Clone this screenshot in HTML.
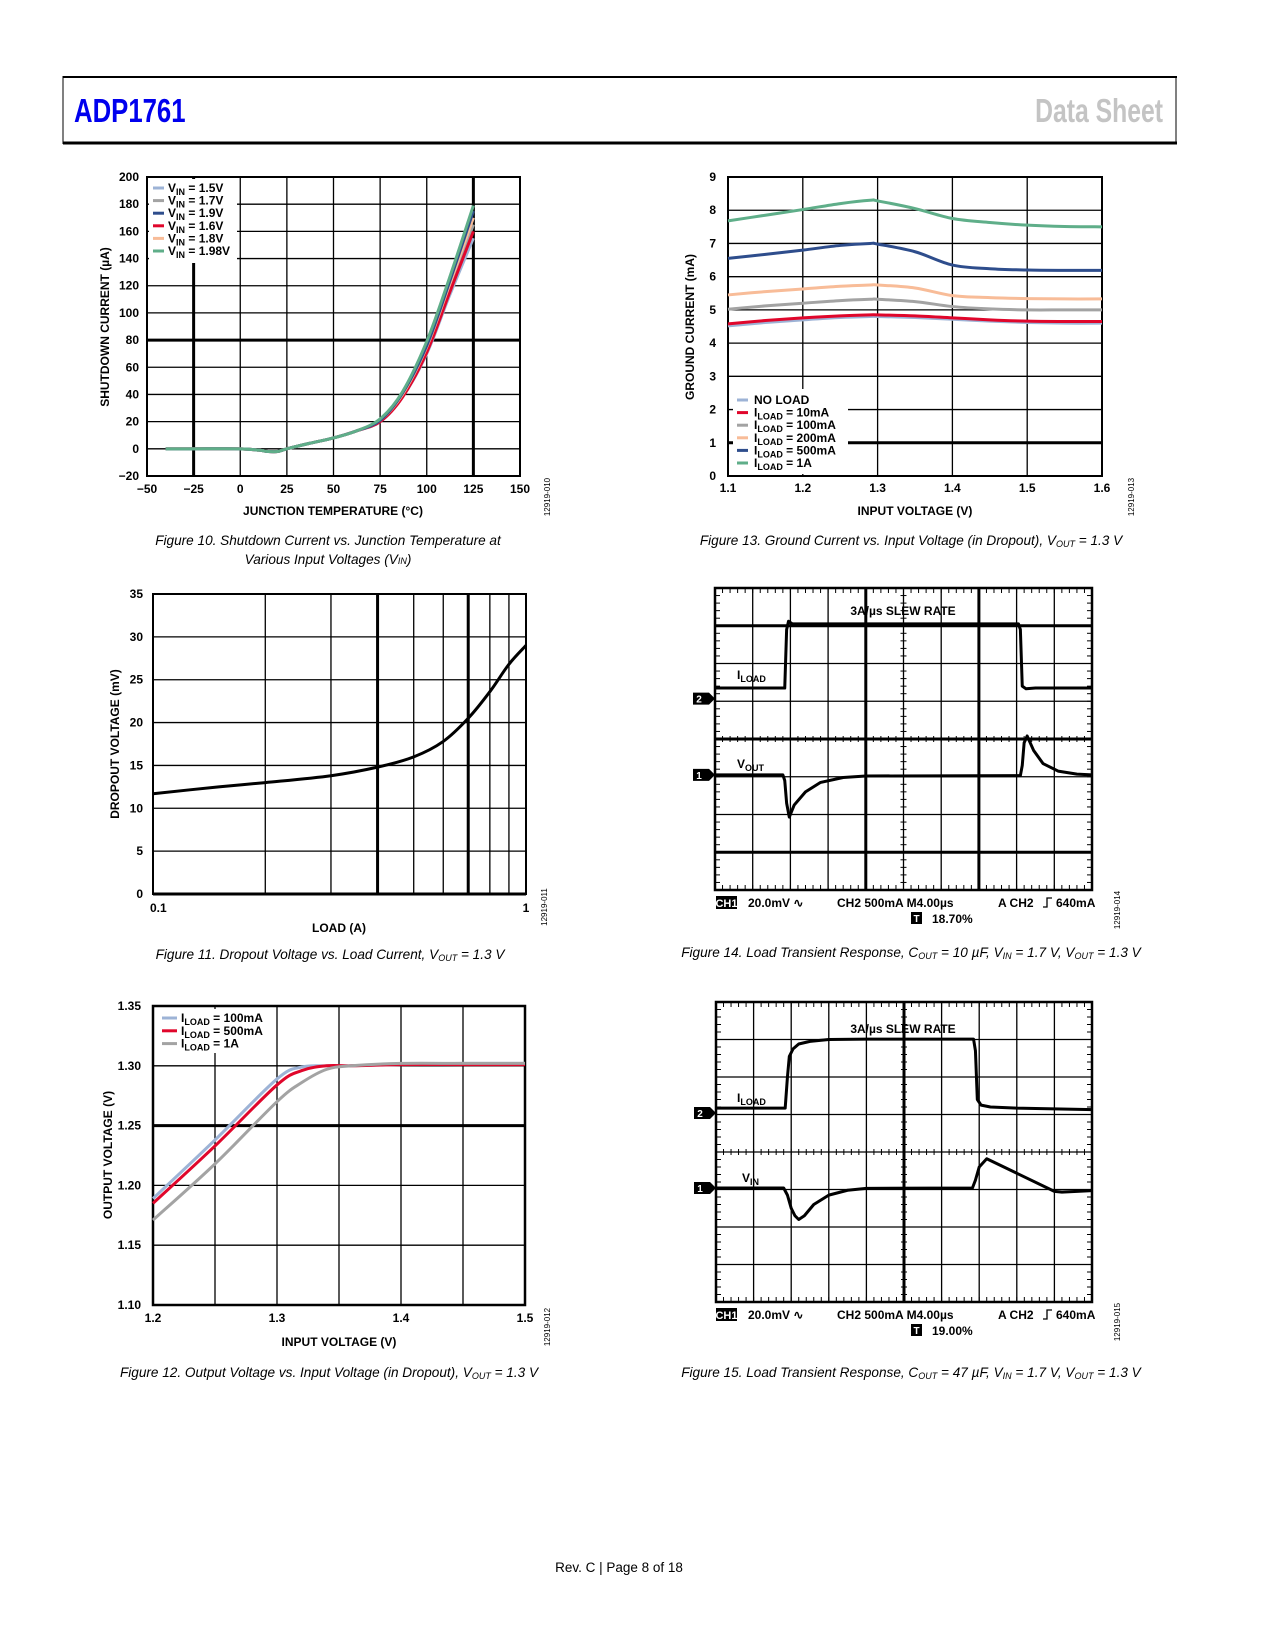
<!DOCTYPE html>
<html><head><meta charset="utf-8"><style>
html,body{margin:0;padding:0;background:#fff;}
svg{display:block;font-family:"Liberation Sans",Arial,sans-serif;}
.t{font-size:12px;font-weight:bold;fill:#000;}
.cap{font-size:13.6px;font-style:italic;fill:#000;}
</style></head><body>
<svg id="pg" width="1275" height="1650" viewBox="0 0 1275 1650" xmlns="http://www.w3.org/2000/svg">
<g>
<line x1="63" y1="77" x2="1177" y2="77" stroke="#000" stroke-width="2"/>
<line x1="63" y1="143" x2="1177" y2="143" stroke="#000" stroke-width="3"/>
<line x1="63" y1="76" x2="63" y2="144" stroke="#000" stroke-width="1"/>
<line x1="1176" y1="76" x2="1176" y2="144" stroke="#000" stroke-width="1"/>
<text x="74" y="122" font-size="33" font-weight="bold" fill="#0000ee" transform="translate(74 0) scale(0.78 1) translate(-74 0)">ADP1761</text>
<text x="1163" y="122" font-size="33" font-weight="bold" fill="#c4c4c4" text-anchor="end" transform="translate(1163 0) scale(0.75 1) translate(-1163 0)">Data Sheet</text>
</g>
<text x="619" y="1572" font-size="13.5" text-anchor="middle">Rev. C | Page 8 of 18</text>
<g id="root"></g>
</svg>
<script>
// ---------- Figure 10 data ----------
const f10Temps=[-40,-25,0,10,15,20,25,37,50,62,75,87,100,112,125];
const f10Names=['1.5V','1.7V','1.9V','1.6V','1.8V','1.98V'];
const f10V15=[0,0,0,-1,-2,-2,0,4,8,13,20,38,70,112,155];
const f10V17=[0,0,0,-1,-2,-2,0,4,8,13,21,39,73,117,165];
const f10V19=[0,0,0,-1,-2,-2,0,4,8,13,21,41,76,122,175];
const f10V16=[0,0,0,-1,-2,-2,0,4,8,13,20,38,71,114,160];
const f10V18=[0,0,0,-1,-2,-2,0,4,8,13,21,40,75,120,170];
const f10V198=[0,0,0,-1,-2,-2,0,4,8,13,22,42,79,125,179];
// ---------- Figure 13 data ----------
const f13Vin=[1.1,1.15,1.2,1.25,1.29,1.3,1.35,1.4,1.45,1.5,1.55,1.6];
const f13Names=['NO LOAD','10mA','100mA','200mA','500mA','1A'];
const f13NoLoad=[4.52,4.62,4.7,4.77,4.8,4.8,4.77,4.72,4.66,4.62,4.6,4.6];
const f13L10=[4.58,4.68,4.76,4.82,4.85,4.85,4.82,4.76,4.7,4.66,4.65,4.65];
const f13L100=[5.02,5.12,5.2,5.28,5.32,5.32,5.25,5.1,5.03,5.0,5.0,5.0];
const f13L200=[5.45,5.55,5.63,5.71,5.75,5.75,5.66,5.43,5.37,5.34,5.33,5.33];
const f13L500=[6.55,6.67,6.8,6.94,7.0,6.98,6.75,6.35,6.24,6.2,6.19,6.19];
const f13L1A=[7.68,7.85,8.02,8.2,8.3,8.28,8.05,7.75,7.63,7.55,7.51,7.5];
// ---------- Figure 11 data ----------
const f11Load=[0.1,0.15,0.2,0.3,0.4,0.5,0.6,0.7,0.8,0.9,1.0];
const f11Drop=[11.7,12.5,13.0,13.8,14.8,16.0,17.8,20.5,23.6,26.8,29.0];
// ---------- Figure 12 data ----------
const f12Vin=[1.2,1.25,1.3,1.32,1.34,1.36,1.4,1.45,1.5];
const f12Names=['100mA','500mA','1A'];
const f12L100=[1.189,1.238,1.289,1.299,1.300,1.300,1.301,1.302,1.302];
const f12L500=[1.185,1.233,1.284,1.296,1.300,1.300,1.301,1.301,1.301];
const f12L1A=[1.171,1.218,1.270,1.286,1.297,1.300,1.302,1.302,1.302];
// ---------- Figure 14 scope data (divisions) ----------
const f14LoadT=[0,1.85,1.9,1.95,2.05,2.2,8.05,8.1,8.15,8.25,8.5,10];
const f14LoadV=[5.35,5.35,6.9,7.12,7.05,7.05,7.05,6.9,5.4,5.33,5.35,5.35];
const f14OutT=[0,1.8,1.85,1.9,1.97,2.1,2.4,2.8,3.4,4,8.1,8.15,8.2,8.28,8.45,8.7,9.1,9.6,10];
const f14OutV=[3.05,3.05,2.9,2.3,1.93,2.25,2.6,2.85,2.98,3.02,3.03,3.3,3.9,4.08,3.7,3.35,3.15,3.07,3.05];
// ---------- Figure 15 scope data (divisions) ----------
const f15LoadT=[0,1.84,1.9,1.95,2.05,2.2,2.5,3,4,6.85,6.9,6.95,7.05,7.3,8,10];
const f15LoadV=[5.17,5.17,6.0,6.55,6.75,6.88,6.95,7.0,7.01,7.01,6.7,5.4,5.25,5.2,5.17,5.13];
const f15InT=[0,1.8,1.9,2.0,2.1,2.2,2.35,2.6,3,3.5,4,6.82,6.9,7.0,7.2,9.0,9.2,10];
const f15InV=[3.04,3.04,2.85,2.5,2.3,2.2,2.3,2.6,2.85,2.98,3.03,3.04,3.25,3.6,3.82,2.95,2.93,2.97];

const NS='http://www.w3.org/2000/svg';
const root=document.getElementById('root');
function mk(tag,attrs,parent){const e=document.createElementNS(NS,tag);for(const k in attrs)e.setAttribute(k,attrs[k]);(parent||root).appendChild(e);return e;}
function txt(x,y,s,cls,parent,anchor){const e=mk('text',{x:x,y:y,class:cls||'t'},parent);if(anchor)e.setAttribute('text-anchor',anchor);e.innerHTML=s;return e;}
function smooth(pts){let d='M'+pts[0][0]+','+pts[0][1];for(let i=0;i<pts.length-1;i++){const p0=pts[i-1]||pts[i],p1=pts[i],p2=pts[i+1],p3=pts[i+2]||p2;const c1x=p1[0]+(p2[0]-p0[0])/6,c1y=p1[1]+(p2[1]-p0[1])/6,c2x=p2[0]-(p3[0]-p1[0])/6,c2y=p2[1]-(p3[1]-p1[1])/6;d+=' C'+c1x+','+c1y+' '+c2x+','+c2y+' '+p2[0]+','+p2[1];}return d;}
function poly(pts){return 'M'+pts.map(p=>p[0]+','+p[1]).join(' L');}
function rotLabel(x,y,s,parent,name){const e=txt(x,y,s,'t',parent,'middle');e.setAttribute('transform','rotate(-90 '+x+' '+y+')');


return e;}
function idLabel(x,y,s,parent){const e=mk('text',{x:x,y:y,'font-size':'8','text-anchor':'middle',transform:'rotate(-90 '+x+' '+y+')'},parent);e.textContent=s;

}
function caption(x,y,html,parent){const e=txt(x,y,html,'cap',parent,'middle');

}

// ---------- Figure 10 ----------
(function(){
const g=mk('g',{});


const L=147,R=520,T=177,B=476;
const xs=v=>L+(v+50)/200*(R-L), ys=v=>B-(v+20)/220*(B-T);
for(let v=-50;v<=150;v+=25){mk('line',{x1:xs(v),y1:T,x2:xs(v),y2:B,stroke:'#000','stroke-width':(v==-25||v==125)?3:1.3},g);txt(xs(v),493,v<0?'\u2212'+(-v):v,'t',g,'middle');}
for(let v=-20;v<=200;v+=20){mk('line',{x1:L,y1:ys(v),x2:R,y2:ys(v),stroke:'#000','stroke-width':v==80?3:1.3},g);txt(L-8,ys(v)+4,v<0?'\u2212'+(-v):v,'t',g,'end');}
mk('rect',{x:L,y:T,width:R-L,height:B-T,fill:'none',stroke:'#000','stroke-width':2},g);
const cols=['#9db3d6','#a3a3a3','#2e4d8c','#e0062b','#f8bc98','#5fae89'];
const ser=[f10V15,f10V17,f10V19,f10V16,f10V18,f10V198];
const order=[0,1,3,4,2,5];
order.forEach(i=>{const p=mk('path',{d:smooth(f10Temps.map((t,j)=>[xs(t),ys(ser[i][j])])),fill:'none',stroke:cols[i],'stroke-width':3},g);

});
const lg=mk('g',{},g);


mk('rect',{x:L+2,y:T+2,width:88,height:84,fill:'#fff'},lg);
f10Names.forEach((n,i)=>{const y=188+i*12.6;mk('line',{x1:153,y1:y,x2:164,y2:y,stroke:cols[i],'stroke-width':3},lg);txt(168,y+4,'V<tspan font-size="9" dy="3">IN</tspan><tspan dy="-3"> = '+n+'</tspan>','t',lg);});
rotLabel(109,327,'SHUTDOWN CURRENT (\u00b5A)',g,'y-axis-title');
const xl=txt(333,515,'JUNCTION TEMPERATURE (\u00b0C)','t',g,'middle');


idLabel(550,497,'12919-010',g);
caption(328,545,'Figure 10. Shutdown Current vs. Junction Temperature at',g);
caption(328,564,'Various Input Voltages (V<tspan font-size="9">IN</tspan>)',g);
})();

// ---------- Figure 13 ----------
(function(){
const g=mk('g',{});


const L=728,R=1102,T=177,B=476;
const xs=v=>L+(v-1.1)/0.5*(R-L), ys=v=>B-v/9*(B-T);
for(let i=0;i<=5;i++){const v=1.1+i*0.1;mk('line',{x1:xs(v),y1:T,x2:xs(v),y2:B,stroke:'#000','stroke-width':1.3},g);txt(xs(v),492,v.toFixed(1),'t',g,'middle');}
for(let v=0;v<=9;v++){mk('line',{x1:L,y1:ys(v),x2:R,y2:ys(v),stroke:'#000','stroke-width':v==1?3:1.3},g);txt(L-12,ys(v)+4,v,'t',g,'end');}
mk('rect',{x:L,y:T,width:R-L,height:B-T,fill:'none',stroke:'#000','stroke-width':2},g);
const cols=['#9db3d6','#e0062b','#a3a3a3','#f8bc98','#2e4d8c','#5fae89'];
const ser=[f13NoLoad,f13L10,f13L100,f13L200,f13L500,f13L1A];
ser.forEach((s,i)=>{const p=mk('path',{d:smooth(f13Vin.map((t,j)=>[xs(t),ys(s[j])])),fill:'none',stroke:cols[i],'stroke-width':3},g);

});
const lg=mk('g',{},g);


mk('rect',{x:733,y:389,width:115,height:85,fill:'#fff'},lg);
f13Names.forEach((n,i)=>{const y=400+i*12.6;mk('line',{x1:737,y1:y,x2:748,y2:y,stroke:cols[i],'stroke-width':3},lg);txt(754,y+4,i==0?'NO LOAD':'I<tspan font-size="9" dy="3">LOAD</tspan><tspan dy="-3"> = '+n+'</tspan>','t',lg);});
rotLabel(694,327,'GROUND CURRENT (mA)',g,'y-axis-title');
const xl=txt(915,515,'INPUT VOLTAGE (V)','t',g,'middle');


idLabel(1134,497,'12919-013',g);
caption(911,545,'Figure 13. Ground Current vs. Input Voltage (in Dropout), V<tspan font-size="9" dy="2">OUT</tspan><tspan dy="-2"> = 1.3 V</tspan>',g);
})();

// ---------- Figure 11 ----------
(function(){
const g=mk('g',{});


const L=153,R=526,T=594,B=894;
const xs=v=>L+Math.log10(v/0.1)*(R-L), ys=v=>B-v/35*(B-T);
[0.1,0.2,0.3,0.4,0.5,0.6,0.7,0.8,0.9,1].forEach(v=>mk('line',{x1:xs(v),y1:T,x2:xs(v),y2:B,stroke:'#000','stroke-width':(v==0.4||v==0.7)?3:1.3},g));
txt(L-3,912,'0.1','t',g,'start');txt(R,912,'1','t',g,'middle');
for(let v=0;v<=35;v+=5){mk('line',{x1:L,y1:ys(v),x2:R,y2:ys(v),stroke:'#000','stroke-width':1.3},g);txt(L-10,ys(v)+4,v,'t',g,'end');}
mk('rect',{x:L,y:T,width:R-L,height:B-T,fill:'none',stroke:'#000','stroke-width':2},g);
mk('line',{x1:L,y1:B,x2:R,y2:B,stroke:'#000','stroke-width':3},g);
const p=mk('path',{d:smooth(f11Load.map((t,j)=>[xs(t),ys(f11Drop[j])])),fill:'none',stroke:'#000','stroke-width':3},g);


rotLabel(119,744,'DROPOUT VOLTAGE (mV)',g,'y-axis-title');
const xl=txt(339,932,'LOAD (A)','t',g,'middle');


idLabel(547,907,'12919-011',g);
caption(330,959,'Figure 11. Dropout Voltage vs. Load Current, V<tspan font-size="9" dy="2">OUT</tspan><tspan dy="-2"> = 1.3 V</tspan>',g);
})();

// ---------- Figure 12 ----------
(function(){
const g=mk('g',{});


const L=153,R=525,T=1006,B=1305;
const xs=v=>L+(v-1.2)/0.3*(R-L), ys=v=>B-(v-1.1)/0.25*(B-T);
for(let i=0;i<=6;i++){const v=1.2+i*0.05;mk('line',{x1:xs(v),y1:T,x2:xs(v),y2:B,stroke:'#000','stroke-width':1.3},g);if(i%2==0)txt(xs(v),1322,v.toFixed(1),'t',g,'middle');}
for(let i=0;i<=5;i++){const v=1.1+i*0.05;mk('line',{x1:L,y1:ys(v),x2:R,y2:ys(v),stroke:'#000','stroke-width':i==3?3:1.3},g);txt(L-12,ys(v)+4,v.toFixed(2),'t',g,'end');}
mk('rect',{x:L,y:T,width:R-L,height:B-T,fill:'none',stroke:'#000','stroke-width':2.5},g);
const cols=['#9db3d6','#e0062b','#a3a3a3'];
const ser=[f12L100,f12L500,f12L1A];
ser.forEach((s,i)=>{const p=mk('path',{d:smooth(f12Vin.map((t,j)=>[xs(t),ys(s[j])])),fill:'none',stroke:cols[i],'stroke-width':3},g);

});
const lg=mk('g',{},g);


mk('rect',{x:156,y:1009,width:96,height:44,fill:'#fff'},lg);
f12Names.forEach((n,i)=>{const y=1018+i*12.8;mk('line',{x1:162,y1:y,x2:177,y2:y,stroke:cols[i],'stroke-width':3},lg);txt(181,y+4,'I<tspan font-size="9" dy="3">LOAD</tspan><tspan dy="-3"> = '+n+'</tspan>','t',lg);});
rotLabel(112,1155,'OUTPUT VOLTAGE (V)',g,'y-axis-title');
const xl=txt(339,1346,'INPUT VOLTAGE (V)','t',g,'middle');


idLabel(550,1327,'12919-012',g);
caption(329,1377,'Figure 12. Output Voltage vs. Input Voltage (in Dropout), V<tspan font-size="9" dy="2">OUT</tspan><tspan dy="-2"> = 1.3 V</tspan>',g);
})();

// ---------- Scope plots ----------
function scope(cfg){
const g=mk('g',{});


const {L,R,T,B}=cfg;const dx=(R-L)/10,dy=(B-T)/8;
const xs=v=>L+v*dx, ys=v=>B-v*dy;
for(let i=1;i<10;i++)mk('line',{x1:xs(i),y1:T,x2:xs(i),y2:B,stroke:'#000','stroke-width':cfg.thickX.includes(i)?3:1.3},g);
for(let i=1;i<8;i++)mk('line',{x1:L,y1:ys(i),x2:R,y2:ys(i),stroke:'#000','stroke-width':cfg.thickY.includes(i)?3:1.3},g);
mk('rect',{x:L,y:T,width:R-L,height:B-T,fill:'none',stroke:'#000','stroke-width':2.5},g);
for(let i=0;i<=50;i++){const x=xs(i/5);mk('line',{x1:x,y1:T,x2:x,y2:T+5,stroke:'#000','stroke-width':1},g);mk('line',{x1:x,y1:B,x2:x,y2:B-5,stroke:'#000','stroke-width':1},g);mk('line',{x1:x,y1:ys(cfg.cy)-3,x2:x,y2:ys(cfg.cy)+3,stroke:'#000','stroke-width':1},g);}
for(let i=0;i<=40;i++){const y=ys(i/5);mk('line',{x1:L,y1:y,x2:L+5,y2:y,stroke:'#000','stroke-width':1},g);mk('line',{x1:R,y1:y,x2:R-5,y2:y,stroke:'#000','stroke-width':1},g);mk('line',{x1:xs(5)-3,y1:y,x2:xs(5)+3,y2:y,stroke:'#000','stroke-width':1},g);}
cfg.traces.forEach(tr=>{const p=mk('path',{d:poly(tr.t.map((t,j)=>[xs(t),ys(tr.v[j])])),fill:'none',stroke:'#000','stroke-width':3,'stroke-linejoin':'round'},g);

});
cfg.markers.forEach(m=>{const y=ys(m.v);mk('path',{d:'M'+(L-22)+','+(y-6)+' h16 l6,6 l-6,6 h-16 z',fill:'#000'},g);const t=mk('text',{x:L-16,y:y+4,'font-size':'10','font-weight':'bold',fill:'#fff','text-anchor':'middle'},g);t.textContent=m.label;});
txt(903,cfg.slewY,'3A/\u00b5s SLEW RATE','t',g,'middle');
txt(737,cfg.l1Y,'I<tspan font-size="9" dy="3">LOAD</tspan>','t',g);
txt(cfg.l2X,cfg.l2Y,'V<tspan font-size="9" dy="3">'+cfg.l2Sub+'</tspan>','t',g);
const by=cfg.botY;
mk('rect',{x:716,y:by-11,width:21,height:13,fill:'#000'},g);
const c1=mk('text',{x:726.5,y:by,'font-size':'11','font-weight':'bold',fill:'#fff','text-anchor':'middle'},g);c1.textContent='CH1';
txt(748,by,'20.0mV \u223f','t',g);
txt(837,by,'CH2 500mA M4.00\u00b5s','t',g);
txt(998,by,'A  CH2','t',g);
mk('path',{d:'M1043,'+by+' h4 v-9 h5',fill:'none',stroke:'#000','stroke-width':1.3},g);
txt(1056,by,'640mA','t',g);
mk('rect',{x:911,y:by+5,width:11,height:12,fill:'#000'},g);
const tt=mk('text',{x:916.5,y:by+15,'font-size':'10','font-weight':'bold',fill:'#fff','text-anchor':'middle'},g);tt.textContent='T';
txt(932,by+16,cfg.trig,'t',g);
idLabel(1120,by+3,cfg.id,g);
caption(911,cfg.capY,cfg.cap,g);
}
scope({name:'figure-14-load-transient-10uF',L:715,R:1092,T:588,B:890,thickX:[4,7],thickY:[1,4,7],cy:4,
traces:[{t:f14LoadT,v:f14LoadV,name:'iload-trace'},{t:f14OutT,v:f14OutV,name:'vout-trace'}],
markers:[{v:5.07,label:'2'},{v:3.05,label:'1'}],slewY:615,l1Y:679,l2X:737,l2Y:768,l2Sub:'OUT',botY:907,trig:'18.70%',id:'12919-014',capY:957,
cap:'Figure 14. Load Transient Response, C<tspan font-size="9" dy="2">OUT</tspan><tspan dy="-2"> = 10 \u00b5F, V</tspan><tspan font-size="9" dy="2">IN</tspan><tspan dy="-2"> = 1.7 V, V</tspan><tspan font-size="9" dy="2">OUT</tspan><tspan dy="-2"> = 1.3 V</tspan>'});
scope({name:'figure-15-load-transient-47uF',L:716,R:1092,T:1002,B:1302,thickX:[5],thickY:[],cy:4,
traces:[{t:f15LoadT,v:f15LoadV,name:'iload-trace'},{t:f15InT,v:f15InV,name:'vin-trace'}],
markers:[{v:5.04,label:'2'},{v:3.04,label:'1'}],slewY:1033,l1Y:1102,l2X:742,l2Y:1182,l2Sub:'IN',botY:1319,trig:'19.00%',id:'12919-015',capY:1377,
cap:'Figure 15. Load Transient Response, C<tspan font-size="9" dy="2">OUT</tspan><tspan dy="-2"> = 47 \u00b5F, V</tspan><tspan font-size="9" dy="2">IN</tspan><tspan dy="-2"> = 1.7 V, V</tspan><tspan font-size="9" dy="2">OUT</tspan><tspan dy="-2"> = 1.3 V</tspan>'});
</script>
</body></html>
